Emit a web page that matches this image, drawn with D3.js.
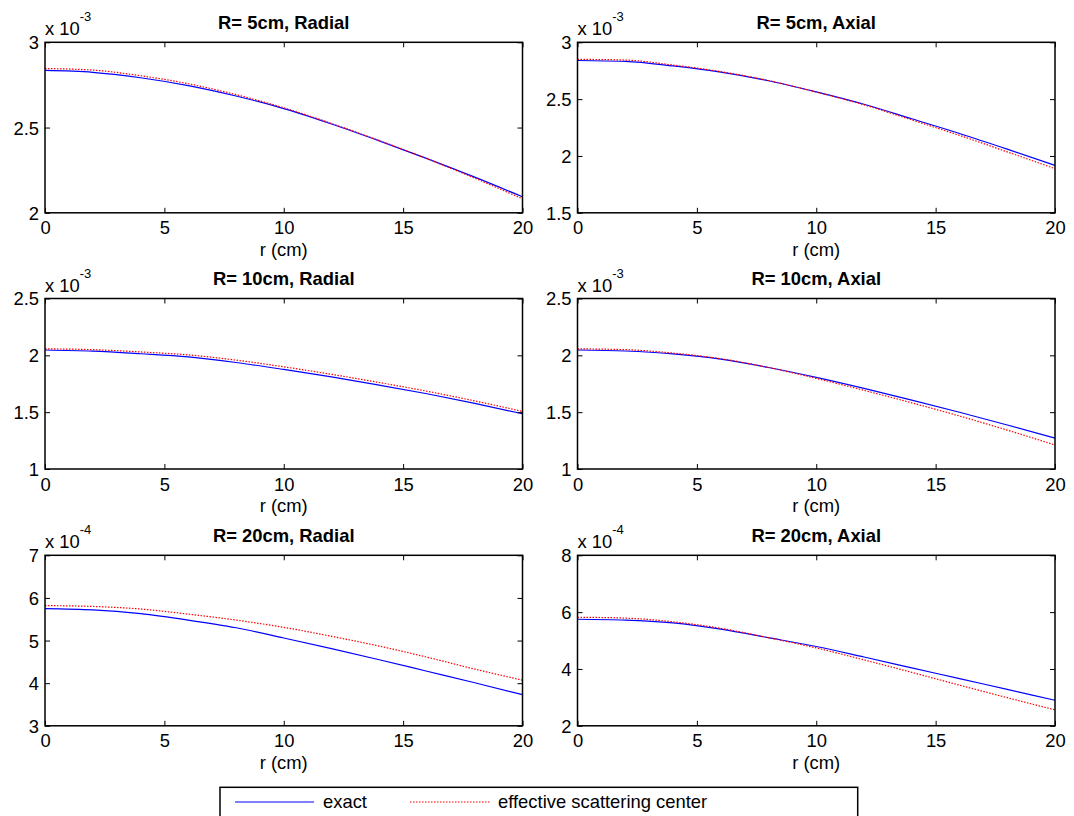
<!DOCTYPE html>
<html>
<head>
<meta charset="utf-8">
<script src="https://cdn.jsdelivr.net/npm/d3@7"></script>
<style>
  body { margin: 0; background: #fff; }
  svg { display: block; font-family: "Liberation Sans", Arial, sans-serif; }
</style>
</head>
<body>
<script>
// r positions (cm) where values were read
var rVals = [0, 2, 4, 6, 8, 10, 12, 14, 16, 18, 20];

// R = 5cm (x 1e-3)
var r5RadialExact = [2.835, 2.824, 2.792, 2.746, 2.685, 2.611, 2.521, 2.422, 2.318, 2.209, 2.094];
var r5RadialEff   = [2.846, 2.837, 2.804, 2.757, 2.693, 2.616, 2.524, 2.424, 2.317, 2.203, 2.082];
var r5AxialExact  = [2.840, 2.832, 2.792, 2.738, 2.662, 2.564, 2.455, 2.327, 2.198, 2.060, 1.917];
var r5AxialEff    = [2.850, 2.844, 2.800, 2.742, 2.664, 2.562, 2.450, 2.317, 2.181, 2.036, 1.888];

// R = 10cm (x 1e-3)
var r10RadialExact = [2.047, 2.037, 2.014, 1.986, 1.937, 1.876, 1.810, 1.738, 1.662, 1.578, 1.486];
var r10RadialEff   = [2.057, 2.050, 2.030, 2.004, 1.958, 1.899, 1.833, 1.761, 1.684, 1.599, 1.507];
var r10AxialExact  = [2.047, 2.038, 2.012, 1.966, 1.893, 1.806, 1.709, 1.606, 1.499, 1.387, 1.272];
var r10AxialEff    = [2.057, 2.050, 2.020, 1.970, 1.893, 1.797, 1.692, 1.582, 1.466, 1.342, 1.211];

// R = 20cm (x 1e-4)
var r20RadialExact = [5.75, 5.72, 5.63, 5.48, 5.30, 5.06, 4.81, 4.55, 4.28, 4.01, 3.73];
var r20RadialEff   = [5.82, 5.80, 5.74, 5.62, 5.48, 5.31, 5.10, 4.87, 4.61, 4.33, 4.07];
var r20AxialExact  = [5.75, 5.72, 5.62, 5.40, 5.10, 4.79, 4.42, 4.04, 3.66, 3.28, 2.90];
var r20AxialEff    = [5.82, 5.79, 5.66, 5.43, 5.10, 4.74, 4.32, 3.88, 3.43, 2.99, 2.56];

var titles = ["R= 5cm, Radial", "R= 5cm, Axial", "R= 10cm, Radial", "R= 10cm, Axial", "R= 20cm, Radial", "R= 20cm, Axial"];
var exponents = ["-3", "-3", "-3", "-3", "-4", "-4"];
var yDomains = [[2, 3], [1.5, 3], [1, 2.5], [1, 2.5], [3, 7], [2, 8]];
var yTicks = [[2, 2.5, 3], [1.5, 2, 2.5, 3], [1, 1.5, 2, 2.5], [1, 1.5, 2, 2.5], [3, 4, 5, 6, 7], [2, 4, 6, 8]];
var xTicks = [0, 5, 10, 15, 20];
var exactSeries = [r5RadialExact, r5AxialExact, r10RadialExact, r10AxialExact, r20RadialExact, r20AxialExact];
var effSeries = [r5RadialEff, r5AxialEff, r10RadialEff, r10AxialEff, r20RadialEff, r20AxialEff];
var legendLabels = ["exact", "effective scattering center"];

var W = 1074, H = 816;
var colLeft = [45, 577.5], plotW = 477.5;
var rowTop = [42.3, 298.5, 555.3], plotH = 170.5;
var fs = 18.4, tickLen = 5;

var svg = d3.select("body").append("svg").attr("width", W).attr("height", H);

for (var i = 0; i < 6; i++) {
    var col = i % 2, row = Math.floor(i / 2);
    var g = svg.append("g").attr("transform", "translate(" + colLeft[col] + "," + rowTop[row] + ")");

    var xScale = d3.scaleLinear().domain([0, 20]).range([0, plotW]);
    var yScale = d3.scaleLinear().domain(yDomains[i]).range([plotH, 0]);

    var line = d3.line()
        .x(function(d, k) { return xScale(rVals[k]); })
        .y(function(d) { return yScale(d); })
        .curve(d3.curveMonotoneX);

    g.append("path").attr("d", line(exactSeries[i]))
        .attr("fill", "none").attr("stroke", "#0000ff").attr("stroke-width", 1.2);
    g.append("path").attr("d", line(effSeries[i]))
        .attr("fill", "none").attr("stroke", "#ff0000").attr("stroke-width", 1.2)
        .attr("stroke-dasharray", "1.5,1.5");

    // axes: bottom/left with labels, top/right ticks only (inside ticks)
    var xAxis = d3.axisBottom(xScale).tickValues(xTicks).tickSizeInner(-tickLen).tickSizeOuter(0);
    var xAxisTop = d3.axisTop(xScale).tickValues(xTicks).tickSizeInner(-tickLen).tickSizeOuter(0).tickFormat("");
    var yAxis = d3.axisLeft(yScale).tickValues(yTicks[i]).tickSizeInner(-tickLen).tickSizeOuter(0).tickPadding(6)
        .tickFormat(d3.format("~g"));
    var yAxisRight = d3.axisRight(yScale).tickValues(yTicks[i]).tickSizeInner(-tickLen).tickSizeOuter(0).tickFormat("");

    var gx = g.append("g").attr("transform", "translate(0," + plotH + ")").call(xAxis);
    g.append("g").call(xAxisTop);
    var gy = g.append("g").call(yAxis);
    g.append("g").attr("transform", "translate(" + plotW + ",0)").call(yAxisRight);

    g.selectAll(".domain").remove();
    g.selectAll(".tick line").attr("stroke", "#000").attr("stroke-width", 1);
    gx.selectAll("text").attr("font-size", fs).attr("fill", "#000").attr("dy", null).attr("y", 21.5);
    gy.selectAll("text").attr("font-size", fs).attr("fill", "#000").attr("dy", "0.35em");
    g.selectAll(".tick text").attr("font-family", "Liberation Sans, Arial, sans-serif");

    g.append("rect").attr("x", 0).attr("y", 0).attr("width", plotW).attr("height", plotH)
        .attr("fill", "none").attr("stroke", "#000").attr("stroke-width", 1.5);

    // title
    g.append("text").attr("x", plotW / 2).attr("y", -13.3).attr("text-anchor", "middle")
        .attr("font-size", fs).attr("font-weight", "bold").text(titles[i]);

    // x label
    g.append("text").attr("x", plotW / 2).attr("y", plotH + 43).attr("text-anchor", "middle")
        .attr("font-size", fs).text("r (cm)");

    // exponent label
    var ex = g.append("text").attr("x", 0).attr("y", -7).attr("font-size", fs);
    ex.append("tspan").text("x 10");
    ex.append("tspan").attr("font-size", 13).attr("dy", -14).text(exponents[i]);
}

// legend
var leg = svg.append("g").attr("transform", "translate(220,787.3)");
leg.append("rect").attr("x", 0).attr("y", 0).attr("width", 637.7).attr("height", 40)
    .attr("fill", "#fff").attr("stroke", "#000").attr("stroke-width", 1.5);
var legItems = [
    {x1: 15, x2: 94, tx: 103, color: "#0000ff", dash: null},
    {x1: 190, x2: 270, tx: 278, color: "#ff0000", dash: "1.5,1.5"}
];
legItems.forEach(function(d, k) {
    leg.append("line").attr("x1", d.x1).attr("x2", d.x2).attr("y1", 14.7).attr("y2", 14.7)
        .attr("stroke", d.color).attr("stroke-width", 1.2).attr("stroke-dasharray", d.dash);
    leg.append("text").attr("x", d.tx).attr("y", 14.7).attr("dy", "0.35em")
        .attr("font-size", fs).text(legendLabels[k]);
});
</script>
</body>
</html>
